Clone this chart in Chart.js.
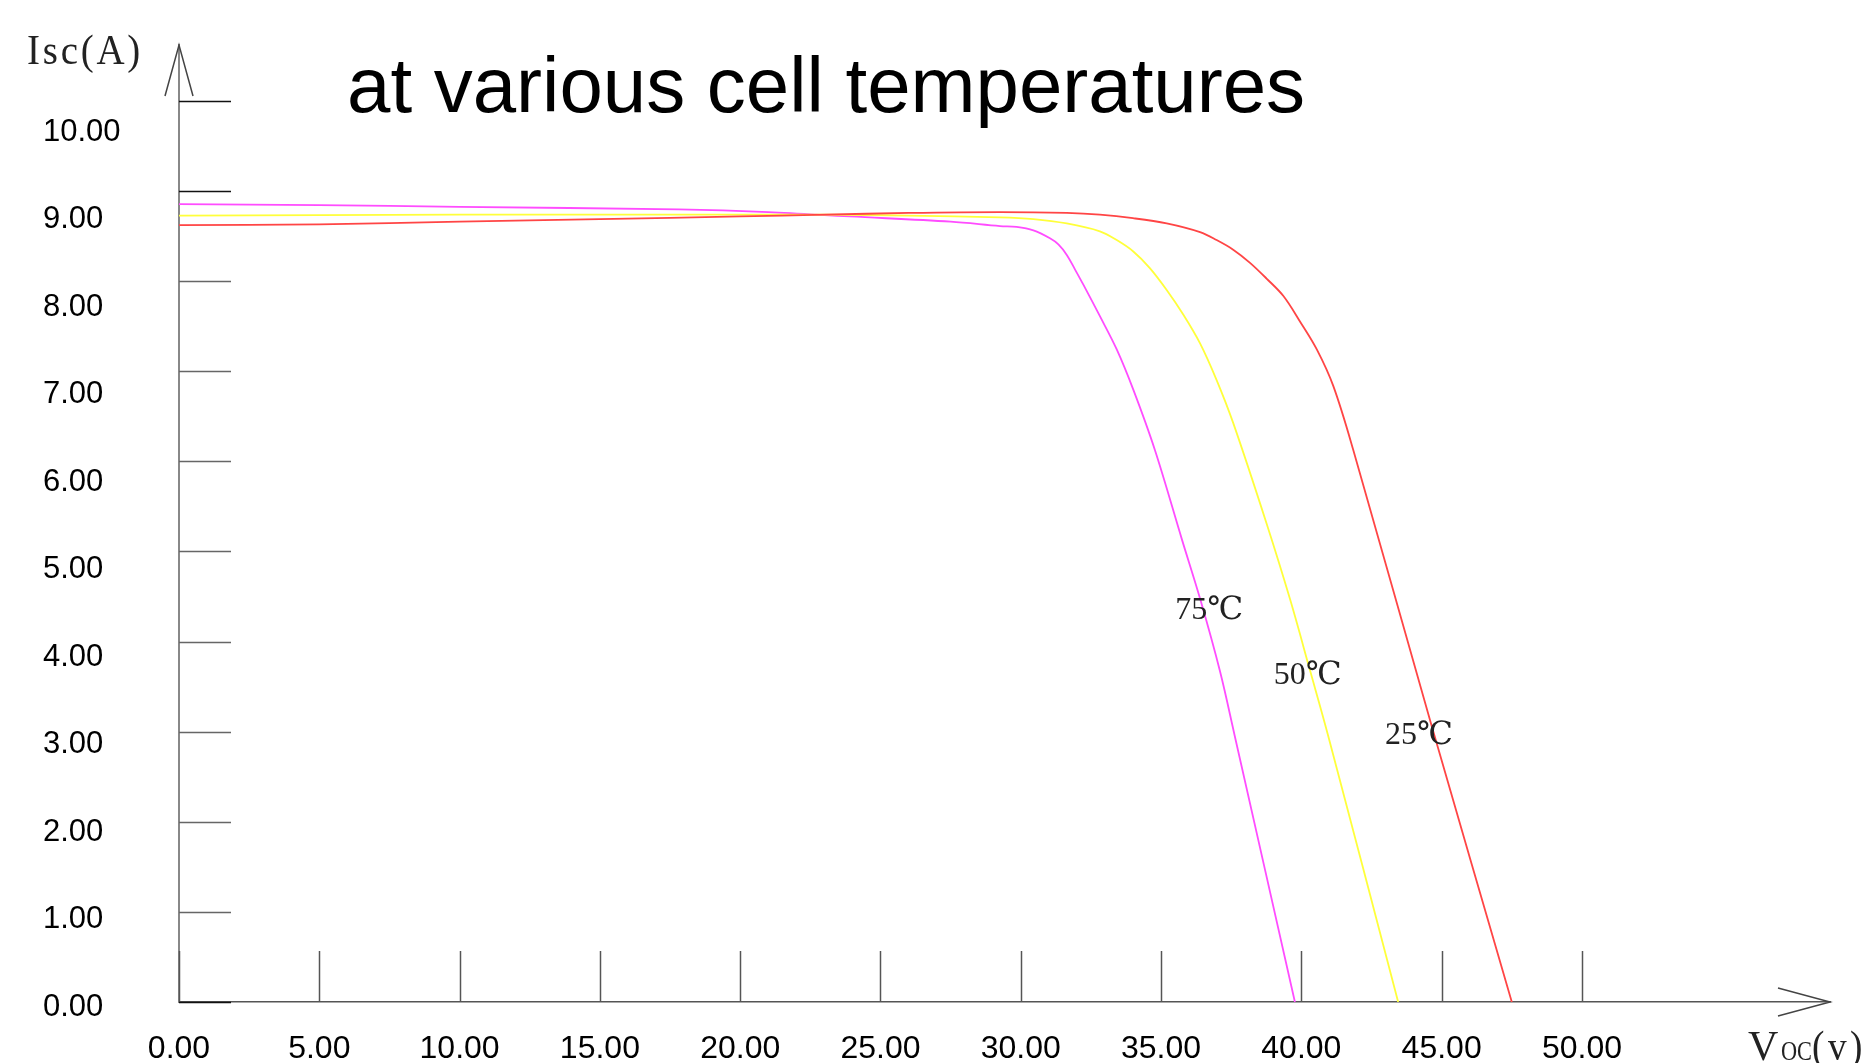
<!DOCTYPE html>
<html>
<head>
<meta charset="utf-8">
<script src="https://cdn.jsdelivr.net/npm/chart.js@4"></script>
<style>
  html, body { margin: 0; padding: 0; background: #fff; }
  #wrap { width: 1869px; height: 1063px; }
</style>
</head>
<body>
<div id="wrap"><canvas id="grafico"></canvas></div>
<script>
// datos (V, A)
const titulo = 'at various cell temperatures';
const etiquetasCurvas = ['25℃', '50℃', '75℃'];
const etiquetaX = [44.19, 40.22, 36.71];
const etiquetaY = [3.05, 3.73, 4.48];

const voltaje25 = [0, 5, 10, 15, 20, 23, 26, 29.26, 31.64, 32.82, 34.0, 35.2, 36.39, 36.98, 37.57, 38.17, 38.76, 39.36, 39.95, 40.55, 41.14, 41.85, 44.65, 47.5];
const corriente25 = [8.88, 8.89, 8.92, 8.95, 8.98, 9.0, 9.02, 9.03, 9.02, 9.0, 8.96, 8.90, 8.80, 8.71, 8.60, 8.45, 8.27, 8.07, 7.78, 7.46, 7.04, 6.31, 3.15, 0];

const voltaje50 = [0, 10, 17.8, 23, 26, 29.26, 30.45, 31.64, 32.82, 33.42, 34.01, 34.6, 35.2, 35.79, 36.39, 36.98, 37.57, 38.76, 39.6, 40.3, 40.95, 43.45];
const corriente50 = [8.99, 9.0, 9.0, 9.0, 8.99, 8.97, 8.95, 8.90, 8.81, 8.71, 8.58, 8.39, 8.14, 7.86, 7.53, 7.11, 6.62, 5.47, 4.60, 3.80, 3.05, 0];

const voltaje75 = [0, 5, 10, 17.8, 21, 23.9, 27.5, 29.26, 29.85, 30.45, 31.04, 31.34, 31.64, 31.94, 32.23, 32.82, 33.42, 34.01, 34.78, 35.75, 36.4, 37.1, 37.62, 39.77];
const corriente75 = [9.12, 9.11, 9.09, 9.06, 9.03, 8.98, 8.92, 8.87, 8.86, 8.82, 8.73, 8.66, 8.54, 8.37, 8.20, 7.84, 7.46, 7.00, 6.31, 5.28, 4.60, 3.78, 3.05, 0];

const ticksX = [0, 5, 10, 15, 20, 25, 30, 35, 40, 45, 50];
const ticksY = [0, 1, 2, 3, 4, 5, 6, 7, 8, 9, 10];

const colores = ['#ff4545', '#ffff3a', '#ff4cff'];

function armarPuntos(vs, is) {
    return vs.map((v, i) => ({ x: v, y: is[i] }));
}

// marcas de ejes, flechas y textos
const decoraciones = {
    id: 'decoraciones',
    beforeDatasetsDraw(chart) {
        const ctx = chart.ctx;
        const { x, yMarca } = chart.scales;
        const area = chart.chartArea;
        ctx.save();
        // marcas verticales sobre el eje x
        ctx.strokeStyle = '#555';
        ctx.lineWidth = 1.5;
        ticksX.forEach(v => {
            const px = Math.round(x.getPixelForValue(v)) + 0.5;
            ctx.beginPath();
            ctx.moveTo(px, area.bottom);
            ctx.lineTo(px, area.bottom - 51);
            ctx.stroke();
        });
        // marcas horizontales del eje y
        ticksY.forEach((v, i) => {
            const py = Math.round(yMarca.getPixelForValue(v)) + 0.5;
            ctx.strokeStyle = i >= 9 || i === 0 ? '#111' : '#666';
            ctx.beginPath();
            ctx.moveTo(area.left, py);
            ctx.lineTo(area.left + 52, py);
            ctx.stroke();
        });
        // flechas
        ctx.strokeStyle = '#444';
        ctx.lineWidth = 1.5;
        ctx.beginPath();
        ctx.moveTo(area.left - 14, area.top + 51);
        ctx.lineTo(area.left, area.top);
        ctx.lineTo(area.left + 14, area.top + 51);
        ctx.stroke();
        ctx.beginPath();
        ctx.moveTo(area.right - 52, area.bottom - 14);
        ctx.lineTo(area.right, area.bottom);
        ctx.lineTo(area.right - 52, area.bottom + 14);
        ctx.stroke();
        ctx.restore();
    },
    afterDraw(chart) {
        const ctx = chart.ctx;
        const { x, y } = chart.scales;
        ctx.save();
        ctx.fillStyle = '#000';
        ctx.textBaseline = 'alphabetic';
        ctx.textAlign = 'left';
        // titulo
        ctx.font = '78px "Liberation Sans", Arial, sans-serif';
        ctx.fillText(titulo, 347, 112);
        // nombres de ejes
        const serif = '"Liberation Serif", "DejaVu Serif", serif';
        ctx.fillStyle = '#222';
        ctx.font = '42px ' + serif;
        ctx.letterSpacing = '3px';
        ctx.fillText('Isc(A)', 27, 64, 116);
        ctx.letterSpacing = '0px';
        ctx.fillText('V', 1748, 1060, 31);
        ctx.font = '27px ' + serif;
        ctx.fillText('OC', 1781, 1060, 31);
        ctx.font = '42px ' + serif;
        ctx.letterSpacing = '4px';
        ctx.fillText('(v)', 1812, 1060, 54);
        ctx.letterSpacing = '0px';
        // etiquetas de las curvas
        ctx.font = '32px ' + serif + ', "Noto Sans CJK SC"';
        ctx.textAlign = 'center';
        ctx.textBaseline = 'middle';
        etiquetasCurvas.forEach((t, i) => {
            ctx.fillText(t, x.getPixelForValue(etiquetaX[i]), y.getPixelForValue(etiquetaY[i]));
        });
        ctx.restore();
    }
};

const ctx = document.getElementById('grafico').getContext('2d');
new Chart(ctx, {
    type: 'line',
    data: {
        datasets: [
            { label: etiquetasCurvas[0], data: armarPuntos(voltaje25, corriente25), borderColor: colores[0] },
            { label: etiquetasCurvas[1], data: armarPuntos(voltaje50, corriente50), borderColor: colores[1] },
            { label: etiquetasCurvas[2], data: armarPuntos(voltaje75, corriente75), borderColor: colores[2] }
        ]
    },
    options: {
        responsive: true,
        maintainAspectRatio: false,
        animation: false,
        layout: { padding: { left: 43, top: 45, right: 39, bottom: 0 } },
        elements: {
            point: { radius: 0 },
            line: { borderWidth: 1.8, tension: 0.35, fill: false }
        },
        plugins: {
            legend: { display: false },
            tooltip: { enabled: false },
            title: { display: false }
        },
        scales: {
            x: {
                type: 'linear',
                min: 0,
                max: 58.84,
                grid: { display: false, drawTicks: false },
                border: { display: true, color: '#555', width: 1.5 },
                afterBuildTicks: s => { s.ticks = ticksX.map(v => ({ value: v })); },
                afterFit: s => { s.height = 61; },
                ticks: {
                    padding: 28,
                    color: '#000',
                    font: { family: '"Liberation Sans", Arial, sans-serif', size: 32 },
                    callback: v => v.toFixed(2)
                }
            },
            y: {
                type: 'linear',
                min: 0,
                max: 10.94,
                grid: { display: false, drawTicks: false },
                border: { display: true, color: '#888', width: 2 },
                afterBuildTicks: s => { s.ticks = ticksY.map(v => ({ value: v })); },
                afterFit: s => { s.width = 136; },
                ticks: {
                    crossAlign: 'far',
                    labelOffset: 5,
                    color: '#000',
                    font: { family: '"Liberation Sans", Arial, sans-serif', size: 31 },
                    callback: v => v.toFixed(2)
                }
            },
            // escala de las marcas cortas del eje y (espaciado distinto al de las etiquetas)
            yMarca: {
                type: 'linear',
                display: false,
                min: 0,
                max: 10.62
            }
        }
    },
    plugins: [decoraciones]
});
</script>
</body>
</html>
